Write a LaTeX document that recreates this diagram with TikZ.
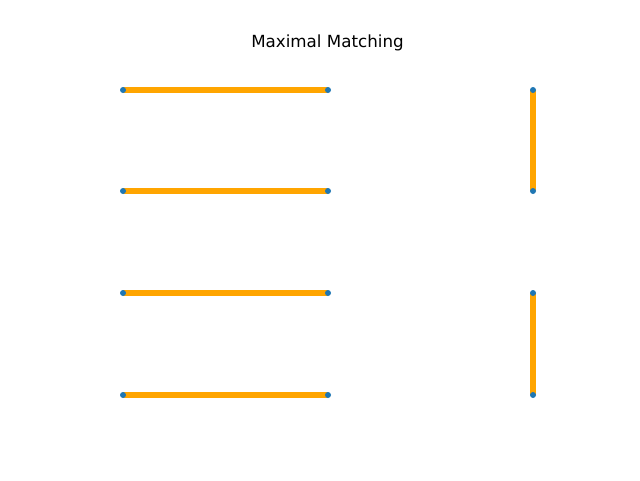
\documentclass[tikz,border=0pt]{standalone}
\usepackage{fontspec}
\setmainfont{DejaVu Sans}
\definecolor{mplblue}{HTML}{1F77B4}
\definecolor{mplorange}{HTML}{FFA500}
\tikzset{
  vtx/.style={circle,inner sep=0pt,minimum size=6pt},
  dot/.style={fill=mplblue},
  match/.style={draw=mplorange,line width=5.5pt}
}
\begin{document}
\begin{tikzpicture}[x=1pt,y=-1pt]
\useasboundingbox (0,0) rectangle (640,480);
\node[anchor=base,font=\fontsize{16.7}{20}\selectfont] (title) at (327.5,47.5) {Maximal Matching};
\foreach \r/\y in {1/90,2/191,3/293,4/395}{
  \node[vtx] (a\r) at (123,\y) {};
  \node[vtx] (b\r) at (328,\y) {};
  \node[vtx] (c\r) at (533,\y) {};
}
\draw[match] (a1.center) -- (b1.center);
\draw[match] (a2.center) -- (b2.center);
\draw[match] (a3.center) -- (b3.center);
\draw[match] (a4.center) -- (b4.center);
\draw[match] (c1.center) -- (c2.center);
\draw[match] (c3.center) -- (c4.center);
\foreach \r in {1,2,3,4}{
  \fill[dot] (a\r) circle (3);
  \fill[dot] (b\r) circle (3);
  \fill[dot] (c\r) circle (3);
}
\end{tikzpicture}
\end{document}
